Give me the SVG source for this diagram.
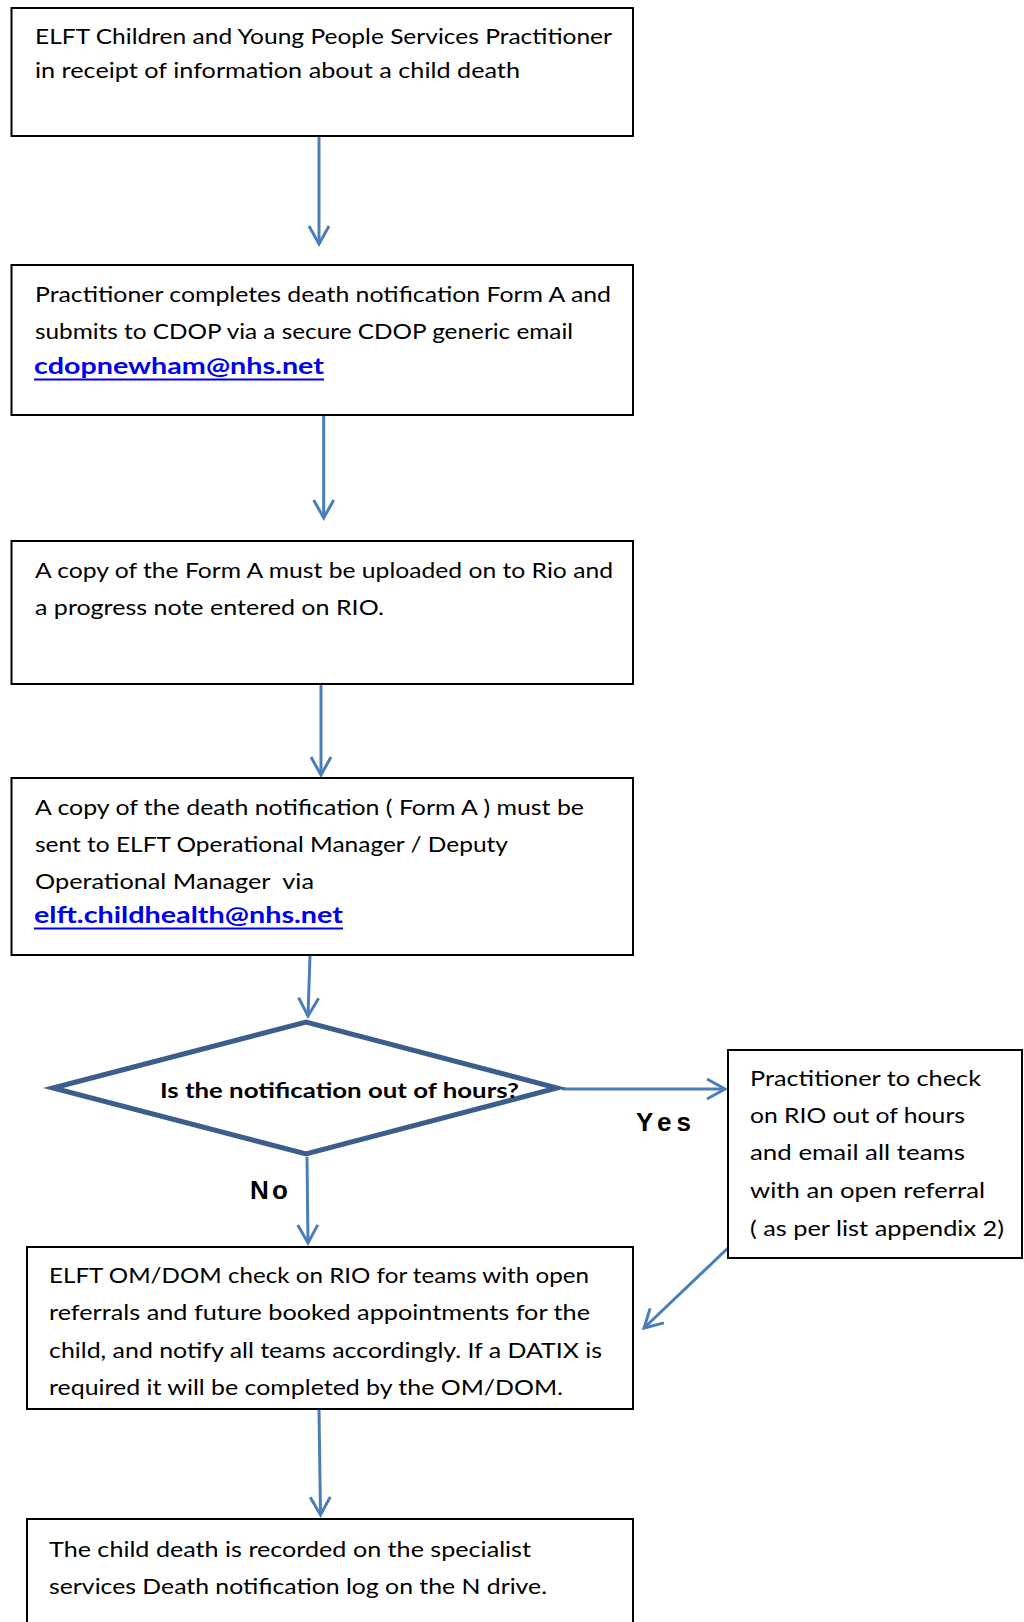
<svg xmlns="http://www.w3.org/2000/svg" width="1024" height="1622" viewBox="0 0 1024 1622">
<defs>
<style>
.box{fill:#fff;stroke:#000;stroke-width:2}
.t{font-family:Lato,"Liberation Sans",sans-serif;font-size:22px;fill:#000}
.lk{font-family:Lato,"Liberation Sans",sans-serif;font-size:23px;font-weight:bold;fill:#0000F0}
.ul{stroke:#0000F0;stroke-width:2}
.dt{font-family:Lato,"Liberation Sans",sans-serif;font-size:21px;font-weight:bold;fill:#000}
.lbl{font-family:"Liberation Sans",Arial,sans-serif;font-size:26px;font-weight:bold;fill:#000}
.c{fill:none;stroke:#4A7EBB;stroke-width:3}
.dm{fill:#fff;stroke:#3B5E8C;stroke-width:5;stroke-linejoin:miter}
</style>
<marker id="ah" viewBox="-22 -13 26 26" markerWidth="26" markerHeight="26" refX="0" refY="0" orient="auto" markerUnits="userSpaceOnUse">
<path d="M-18,-10 L0,0 L-18,10" fill="none" stroke="#4A7EBB" stroke-width="3"/>
</marker>
</defs>
<rect width="1024" height="1622" fill="#fff"/>

<g id="connectors">
<line class="c" x1="319" y1="136" x2="319" y2="244" marker-end="url(#ah)"/>
<line class="c" x1="323.7" y1="415" x2="323.7" y2="518" marker-end="url(#ah)"/>
<line class="c" x1="321" y1="684" x2="321" y2="775" marker-end="url(#ah)"/>
<line class="c" x1="310" y1="955" x2="308" y2="1016" marker-end="url(#ah)"/>
<line class="c" x1="562" y1="1089" x2="725" y2="1089" marker-end="url(#ah)"/>
<line class="c" x1="307" y1="1157" x2="308" y2="1243" marker-end="url(#ah)"/>
<line class="c" x1="728" y1="1248" x2="644" y2="1328" marker-end="url(#ah)"/>
<line class="c" x1="319" y1="1409" x2="320.5" y2="1515" marker-end="url(#ah)"/>
</g>

<g id="n1">
<rect class="box" x="11.5" y="8" width="621.5" height="128"/>
<text class="t" x="35" y="44" textLength="577" lengthAdjust="spacingAndGlyphs">ELFT Children and Young People Services Practitioner</text>
<text class="t" x="35" y="78" textLength="485" lengthAdjust="spacingAndGlyphs">in receipt of information about a child death</text>
</g>

<g id="n2">
<rect class="box" x="11.5" y="265" width="621.5" height="150"/>
<text class="t" x="35" y="301.5" textLength="576" lengthAdjust="spacingAndGlyphs">Practitioner completes death notification Form A and</text>
<text class="t" x="35" y="339" textLength="538" lengthAdjust="spacingAndGlyphs">submits to CDOP via a secure CDOP generic email</text>
<text class="lk" x="34" y="374" textLength="290" lengthAdjust="spacingAndGlyphs">cdopnewham@nhs.net</text>
<line class="ul" x1="34" y1="379.5" x2="324" y2="379.5"/>
</g>

<g id="n3">
<rect class="box" x="11.5" y="541" width="621.5" height="143"/>
<text class="t" x="35" y="578" textLength="578" lengthAdjust="spacingAndGlyphs">A copy of the Form A must be uploaded on to Rio and</text>
<text class="t" x="35" y="615" textLength="349" lengthAdjust="spacingAndGlyphs">a progress note entered on RIO.</text>
</g>

<g id="n4">
<rect class="box" x="11.5" y="778" width="621.5" height="177"/>
<text class="t" x="35" y="815" textLength="549" lengthAdjust="spacingAndGlyphs">A copy of the death notification ( Form A ) must be</text>
<text class="t" x="35" y="852" textLength="473" lengthAdjust="spacingAndGlyphs">sent to ELFT Operational Manager / Deputy</text>
<text class="t" x="35" y="889" textLength="279" lengthAdjust="spacingAndGlyphs" xml:space="preserve">Operational Manager  via</text>
<text class="lk" x="34" y="923" textLength="309" lengthAdjust="spacingAndGlyphs">elft.childhealth@nhs.net</text>
<line class="ul" x1="34" y1="928.5" x2="343" y2="928.5"/>
</g>

<g id="n5">
<polygon class="dm" points="53,1088 306,1022 557,1088 306,1154"/>
<text class="dt" x="160" y="1098" textLength="359" lengthAdjust="spacingAndGlyphs">Is the notification out of hours?</text>
</g>

<g id="labels">
<text class="lbl" x="636" y="1131" textLength="55" lengthAdjust="spacing">Yes</text>
<text class="lbl" x="250" y="1199" textLength="38" lengthAdjust="spacing">No</text>
</g>

<g id="n6">
<rect class="box" x="728" y="1050" width="294" height="208"/>
<text class="t" x="750" y="1086" textLength="231" lengthAdjust="spacingAndGlyphs">Practitioner to check</text>
<text class="t" x="750" y="1123" textLength="215" lengthAdjust="spacingAndGlyphs">on RIO out of hours</text>
<text class="t" x="750" y="1160" textLength="215" lengthAdjust="spacingAndGlyphs">and email all teams</text>
<text class="t" x="750" y="1198" textLength="235" lengthAdjust="spacingAndGlyphs">with an open referral</text>
<text class="t" x="750" y="1236" textLength="254" lengthAdjust="spacingAndGlyphs">( as per list appendix 2)</text>
</g>

<g id="n7">
<rect class="box" x="27" y="1247" width="606" height="162"/>
<text class="t" x="49" y="1283" textLength="540" lengthAdjust="spacingAndGlyphs">ELFT OM/DOM check on RIO for teams with open</text>
<text class="t" x="49" y="1320" textLength="541" lengthAdjust="spacingAndGlyphs">referrals and future booked appointments for the</text>
<text class="t" x="49" y="1358" textLength="553" lengthAdjust="spacingAndGlyphs">child, and notify all teams accordingly. If a DATIX is</text>
<text class="t" x="49" y="1395" textLength="514" lengthAdjust="spacingAndGlyphs">required it will be completed by the OM/DOM.</text>
</g>

<g id="n8">
<rect class="box" x="27" y="1519" width="606" height="120"/>
<text class="t" x="49" y="1557" textLength="482" lengthAdjust="spacingAndGlyphs">The child death is recorded on the specialist</text>
<text class="t" x="49" y="1594" textLength="498" lengthAdjust="spacingAndGlyphs">services Death notification log on the N drive.</text>
</g>
</svg>
